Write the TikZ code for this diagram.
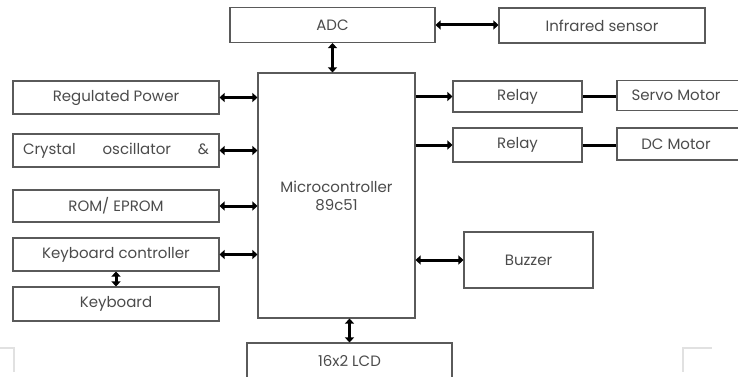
\documentclass[tikz,border=0pt]{standalone}
\usepackage{fontspec}
\setmainfont{Poppins}
\usetikzlibrary{positioning, arrows.meta}
\definecolor{BoxGray}{RGB}{90, 90, 90}
\definecolor{TextGray}{RGB}{75, 75, 75}
\definecolor{ScanGray}{RGB}{225, 225, 225}

\begin{document}
\begin{tikzpicture}[x=1pt, y=-1pt,
    blk/.style={draw=BoxGray, line width=1.1pt, inner sep=0pt, text=TextGray,
      font=\fontsize{15}{18}\selectfont, align=center},
    link/.style={line width=3pt, {Triangle[length=5pt,width=9pt]}-{Triangle[length=5pt,width=9pt]}},
    feed/.style={line width=3pt, -{Triangle[length=5pt,width=9pt]}},
    wire/.style={line width=3pt}]
    \useasboundingbox (0,0) rectangle (738,377);

    % Top row
    \node[blk, minimum width=205pt, minimum height=35pt] (adc) at (332.5, 25) {ADC};
    \node[blk, minimum width=206pt, minimum height=35pt] (ir) at (602, 25.5) {Infrared sensor};

    % Microcontroller
    \node[blk, minimum width=157pt, minimum height=245pt] (mc) at (336.5, 195.5) {Microcontroller\\89c51};

    % Left column
    \node[blk, minimum width=206pt, minimum height=33pt] (power) at (116, 97.5) {Regulated Power};
    \node[blk, minimum width=206pt, minimum height=33pt] (xtal) at (116, 150.5)
      {\makebox[186pt]{Crystal\hfill oscillator\hfill\&}};
    \node[blk, minimum width=206pt, minimum height=32pt] (rom) at (116, 206) {ROM/ EPROM};
    \node[blk, minimum width=206pt, minimum height=33pt] (kbc) at (116, 254.5) {Keyboard controller};
    \node[blk, minimum width=206pt, minimum height=34pt] (kb) at (116, 304) {Keyboard};

    % Bottom
    \node[blk, minimum width=205pt, minimum height=36pt] (lcd) at (349.5, 361) {16x2 LCD};

    % Right side
    \node[blk, minimum width=129pt, minimum height=31pt] (relayA) at (517.5, 96.5) {Relay};
    \node[blk, minimum width=129pt, minimum height=34pt] (relayB) at (517.5, 145) {Relay};
    \node[blk, minimum width=128pt, minimum height=30pt] (servo) at (681, 95.5) {\hspace*{-10pt}Servo Motor};
    \node[blk, minimum width=128pt, minimum height=32pt] (dc) at (681, 144) {\hspace*{-10pt}DC Motor};
    \node[blk, minimum width=129pt, minimum height=56pt] (buzz) at (528.5, 260) {Buzzer};

    % Connections
    \draw[link] (adc.east) -- (ir.west |- adc.east);
    \draw[link] (adc.south) -- (adc.south |- mc.north);
    \foreach \n in {power, xtal, rom, kbc}
      \draw[link] (\n.east) -- (\n.east -| mc.west);
    \draw[link] (kbc.south) -- (kb.north);
    \draw[link] (lcd.north) -- (lcd.north |- mc.south);
    \draw[feed] (relayA.west -| mc.east) -- (relayA.west);
    \draw[feed] (relayB.west -| mc.east) -- (relayB.west);
    \draw[wire] (relayA.east) -- (relayA.east -| servo.west);
    \draw[wire] (relayB.east) -- (relayB.east -| dc.west);
    \draw[link] (buzz.west -| mc.east) -- (buzz.west);

    % scan corners
    \draw[ScanGray, line width=1.5pt] (0,348) -- (14,348) -- (14,372);
    \draw[ScanGray, line width=1.5pt] (712,348) -- (683,348) -- (683,372);
\end{tikzpicture}
\end{document}
